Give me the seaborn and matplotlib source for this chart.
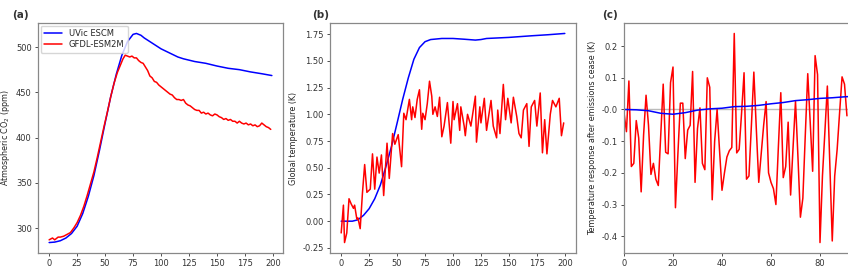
import matplotlib
matplotlib.use("Agg")
import matplotlib.pyplot as plt
import seaborn as sns
import numpy as np

# ---------------- data ----------------
# Panel (a): atmospheric CO2 (ppm)
uvic_co2_years = [0, 5, 10, 15, 20, 25, 30, 35, 40, 45, 50, 55, 60, 65, 70, 75, 78, 82, 85, 90, 95,
                  100, 105, 110, 115, 120, 125, 130, 140, 150, 160, 170, 180, 190, 199]
uvic_co2 = [284, 284.5, 286, 289, 294, 302, 316, 335, 358, 386, 416, 445, 470, 491, 506, 514, 515, 513, 510,
            506, 502, 498, 495, 492, 489, 487, 485.5, 484, 482, 479, 476.5, 475, 472.5, 470.5, 468.5]

gfdl_co2_years = [0, 3, 5, 8, 10, 13, 16, 19, 22, 25, 28, 31, 34, 37, 40, 43, 46, 49, 52, 55, 58, 61, 64, 66,
                  68, 70, 72, 74, 76, 78, 80, 82, 84, 86, 88, 90, 92, 94, 96, 98, 100, 102, 104, 106, 108,
                  110, 112, 114, 116, 118, 120, 122, 124, 126, 128, 130, 132, 134, 136, 138, 140, 142, 144,
                  146, 148, 150, 152, 154, 156, 158, 160, 162, 164, 166, 168, 170, 172, 174, 176, 178, 180,
                  182, 184, 186, 188, 190, 192, 194, 196, 198]
gfdl_co2 = [287, 289, 287, 290, 290, 291, 293, 295, 300, 306, 314, 324, 336, 349, 362, 378, 395, 412, 428,
            445, 460, 472, 481, 487, 491, 490, 489, 490, 488, 488, 485, 483, 482, 478, 474, 468, 466, 462,
            461, 458, 456, 454, 452, 450, 448, 447, 444, 442, 442, 441, 442, 438, 436, 435, 433, 431, 430,
            430, 427, 428, 426, 427, 425, 424, 426, 425, 423, 422, 420, 421, 419, 420, 418, 418, 416, 418,
            416, 415, 416, 414, 415, 413, 414, 412, 413, 416, 414, 412, 411, 409]

# Panel (b): global temperature (K)
uvic_t_years = [0, 10, 15, 20, 25, 30, 35, 40, 45, 50, 55, 60, 65, 70, 75, 80, 90, 100, 110, 120, 125,
                130, 150, 170, 185, 200]
uvic_t = [0.0, 0.0, 0.013, 0.055, 0.117, 0.21, 0.337, 0.51, 0.70, 0.918, 1.14, 1.34, 1.515, 1.625, 1.68,
          1.70, 1.71, 1.71, 1.703, 1.695, 1.70, 1.71, 1.72, 1.735, 1.745, 1.757]

gfdl_t_years = [0, 2, 3, 5, 7, 9, 11, 12, 14, 15, 17, 19, 21, 23, 26, 28, 30, 32, 34, 36, 38, 41, 43, 46,
                48, 51, 54, 56, 58, 61, 63, 64, 66, 68, 70, 72, 73, 75, 77, 79, 81, 82, 84, 86, 88, 90,
                92, 95, 98, 100, 101, 104, 106, 107, 110, 111, 113, 116, 120, 121, 124, 125, 128, 130,
                134, 136, 139, 140, 142, 145, 147, 149, 152, 154, 157, 159, 161, 163, 166, 168, 170, 173,
                175, 178, 180, 182, 184, 187, 189, 192, 195, 197, 199]
gfdl_t = [-0.11, 0.15, -0.20, -0.11, 0.21, 0.16, 0.12, 0.15, 0.02, 0.03, -0.07, 0.26, 0.53, 0.27, 0.30,
          0.63, 0.30, 0.60, 0.45, 0.62, 0.24, 0.73, 0.40, 0.82, 0.72, 0.81, 0.51, 1.01, 0.95, 1.14, 0.95,
          1.07, 0.97, 1.14, 1.23, 0.86, 1.01, 0.95, 1.10, 1.31, 1.17, 1.00, 1.07, 0.98, 1.16, 0.79, 0.89,
          1.11, 0.73, 1.12, 0.95, 1.10, 0.85, 1.07, 0.89, 0.80, 1.00, 0.89, 1.17, 0.74, 1.07, 0.92, 1.15,
          0.85, 1.13, 0.89, 0.78, 1.04, 0.82, 1.28, 0.95, 1.15, 0.92, 1.16, 0.98, 0.82, 0.78, 1.04, 1.10,
          0.70, 1.07, 1.13, 0.89, 1.20, 0.64, 0.95, 0.63, 1.00, 1.13, 1.07, 1.15, 0.80, 0.92]

# Panel (c): temperature response after emissions cease (K)
uvic_zec_years = [0, 5, 10, 15, 20, 25, 30, 35, 40, 45, 50, 55, 60, 65, 70, 75, 80, 85, 90, 95, 100]
uvic_zec = [0.0, -0.001, -0.004, -0.012, -0.015, -0.01, -0.002, 0.002, 0.004, 0.009, 0.01, 0.013, 0.018,
            0.022, 0.028, 0.031, 0.035, 0.037, 0.04, 0.042, 0.044]

gfdl_zec_years = list(range(0, 92))
gfdl_zec = [-0.01, -0.07, 0.09, -0.18, -0.17, -0.035, -0.09, -0.26, -0.08, 0.045,
            -0.05, -0.205, -0.17, -0.22, -0.24, -0.08, 0.08, -0.135, -0.14, 0.085,
            0.134, -0.31, -0.14, 0.02, 0.02, -0.155, -0.065, -0.05, 0.12, -0.23,
            -0.06, 0.005, -0.17, -0.19, 0.10, 0.07, -0.285, -0.10, 0.0, -0.13,
            -0.255, -0.20, -0.15, -0.13, -0.12, 0.24, -0.137, -0.126, -0.01, 0.116,
            -0.22, -0.21, -0.05, 0.118, -0.06, -0.23, -0.14, -0.05, 0.025, -0.20,
            -0.23, -0.25, -0.30, -0.12, 0.053, -0.215, -0.18, -0.04, -0.27, -0.12,
            0.026, -0.15, -0.34, -0.28, -0.08, 0.113, -0.04, -0.195, 0.17, 0.11,
            -0.42, -0.21, -0.07, 0.074, -0.17, -0.415, -0.21, -0.126, -0.01, 0.103,
            0.08, -0.02]

labels = ["UVic ESCM", "GFDL-ESM2M"]
panel_titles = ["(a)", "(b)", "(c)"]
ylabels = ["Atmospheric CO$_2$ (ppm)", "Global temperature (K)",
           "Temperature response after emissions cease (K)"]

# ---------------- figure ----------------
sns.set_theme(style="ticks")
plt.rcParams["font.family"] = ["DejaVu Sans"]

W, H = 848, 269
fig = plt.figure(figsize=(W / 100, H / 100), dpi=100)

def px_axes(left, top, right, bottom):
    return fig.add_axes([left / W, 1 - bottom / H, (right - left) / W, (bottom - top) / H])

axa = px_axes(38, 23, 283, 253)
axb = px_axes(330, 23, 576, 253)
axc = px_axes(624, 23, 869, 253)

lw = 1.1
# (a)
sns.lineplot(x=uvic_co2_years, y=uvic_co2, color="blue", lw=lw, label=labels[0], ax=axa)
sns.lineplot(x=gfdl_co2_years, y=gfdl_co2, color="red", lw=lw, label=labels[1], ax=axa)
axa.set_xticks(np.arange(0, 201, 25))
axa.set_yticks(np.arange(300, 501, 50))
leg = axa.legend(loc="upper left", fontsize=6, frameon=True, borderpad=0.4, handlelength=2.2,
                 borderaxespad=0.3, labelspacing=0.3)
leg.get_frame().set_edgecolor("#cccccc")

# (b)
sns.lineplot(x=uvic_t_years, y=uvic_t, color="blue", lw=lw, ax=axb)
sns.lineplot(x=gfdl_t_years, y=gfdl_t, color="red", lw=lw, ax=axb)
axb.set_xticks(np.arange(0, 201, 25))
axb.set_yticks(np.arange(-0.25, 1.76, 0.25))
axb.yaxis.set_major_formatter(matplotlib.ticker.FormatStrFormatter("%.2f"))

# (c)
axc.axhline(0, color="#bbbbbb", lw=1.0, ls="-", zorder=1)
sns.lineplot(x=gfdl_zec_years, y=gfdl_zec, color="red", lw=lw, ax=axc)
sns.lineplot(x=uvic_zec_years, y=uvic_zec, color="blue", lw=lw, ax=axc)
axc.set_xlim(0, 100)
axc.set_xticks(np.arange(0, 81, 20))
axc.set_yticks(np.arange(-0.4, 0.21, 0.1))
axc.yaxis.set_major_formatter(matplotlib.ticker.FormatStrFormatter("%.1f"))

for ax, yl in zip([axa, axb, axc], ylabels):
    ax.set_ylabel(yl, fontsize=5.8, labelpad=3)
    ax.set_xlabel("")
    ax.tick_params(labelsize=6, length=2.5, width=0.6, pad=2, colors="#333333")
    for s in ax.spines.values():
        s.set_color("#888888")
        s.set_linewidth(0.9)

for xp, t in zip([12, 312, 602], panel_titles):
    fig.text(xp / W, 1 - 15 / H, t, fontsize=7.5, fontweight="bold", va="center", ha="left",
             color="#333333")

fig.savefig("out.png", dpi=100)
